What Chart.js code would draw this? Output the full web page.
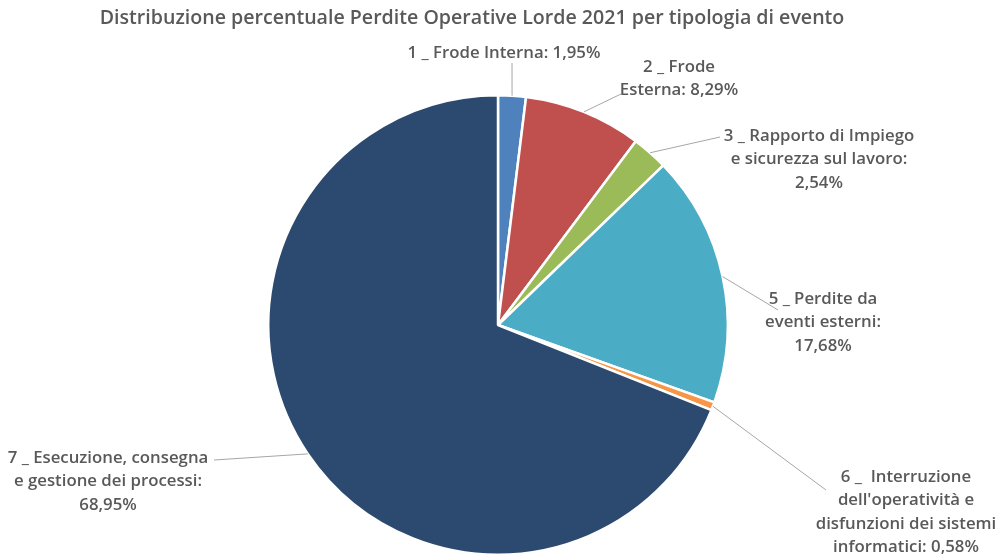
<!DOCTYPE html>
<html>
<head>
<meta charset="utf-8">
<script src="https://cdn.jsdelivr.net/npm/chart.js@4"></script>
<style>
html,body{margin:0;padding:0;background:#fff;}
#wrap{width:1000px;height:556px;position:relative;}
</style>
</head>
<body>
<div id="wrap"><canvas id="c" width="1000" height="556"></canvas></div>
<script>
const categories = [
  "1 _ Frode Interna",
  "2 _ Frode Esterna",
  "3 _ Rapporto di Impiego e sicurezza sul lavoro",
  "5 _ Perdite da eventi esterni",
  "6 _ Interruzione dell'operatività e disfunzioni dei sistemi informatici",
  "7 _ Esecuzione, consegna e gestione dei processi"
];
const values = [1.95, 8.29, 2.54, 17.68, 0.58, 68.95];
const colors = ["#4F81BD", "#C0504D", "#9BBB59", "#4BACC6", "#F79646", "#2C4A6F"];
const labelLines = [
  ["1 _ Frode Interna: 1,95%"],
  ["2 _ Frode", "Esterna: 8,29%"],
  ["3 _ Rapporto di Impiego", "e sicurezza sul lavoro:", "2,54%"],
  ["5 _ Perdite da", "eventi esterni:", "17,68%"],
  ["6 _  Interruzione", "dell'operatività e", "disfunzioni dei sistemi", "informatici: 0,58%"],
  ["7 _ Esecuzione, consegna", "e gestione dei processi:", "68,95%"]
];
const labelPos = [
  {x: 504, y: 53, ex: 512, ey: 63},
  {x: 679, y: 67, ex: 621, ey: 94},
  {x: 819, y: 136, ex: 720, ey: 137},
  {x: 823, y: 299, ex: 778, ey: 310},
  {x: 906, y: 477, ex: 826, ey: 490},
  {x: 108, y: 458, ex: 214, ey: 460}
];
const lineH = 23.5;
const titleText = 'Distribuzione percentuale Perdite Operative Lorde 2021 per tipologia di evento';

const labelPlugin = {
  id: 'leaderLabels',
  afterDatasetsDraw(chart) {
    const ctx = chart.ctx;
    const meta = chart.getDatasetMeta(0);
    ctx.save();
    meta.data.forEach((arc, i) => {
      const p = arc.getProps(['x','y','startAngle','endAngle','outerRadius'], true);
      const mid = (p.startAngle + p.endAngle) / 2;
      const sx = p.x + Math.cos(mid) * p.outerRadius;
      const sy = p.y + Math.sin(mid) * p.outerRadius;
      const lp = labelPos[i];
      ctx.strokeStyle = '#A6A6A6';
      ctx.lineWidth = 1;
      ctx.beginPath();
      ctx.moveTo(sx, sy);
      ctx.lineTo(lp.ex, lp.ey);
      ctx.stroke();
      ctx.fillStyle = '#595959';
      ctx.font = '600 16.8px "Open Sans"';
      ctx.textAlign = 'center';
      ctx.textBaseline = 'middle';
      labelLines[i].forEach((t, k) => {
        ctx.fillText(t, lp.x, lp.y + k * lineH);
      });
    });
    ctx.font = '600 19.6px "Open Sans"';
    ctx.fillStyle = '#595959';
    ctx.textAlign = 'center';
    ctx.textBaseline = 'middle';
    ctx.fillText(titleText, 472, 18);
    ctx.restore();
  }
};

new Chart(document.getElementById('c'), {
  type: 'pie',
  data: {
    labels: categories,
    datasets: [{
      data: values,
      backgroundColor: colors,
      borderColor: '#ffffff',
      borderWidth: 2.5
    }]
  },
  options: {
    responsive: false,
    animation: false,
    layout: {padding: {top: 94, bottom: 0, left: 0, right: 4}},
    plugins: {
      legend: {display: false},
      tooltip: {enabled: false},
      title: {display: false}
    }
  },
  plugins: [labelPlugin]
});
</script>
</body>
</html>
